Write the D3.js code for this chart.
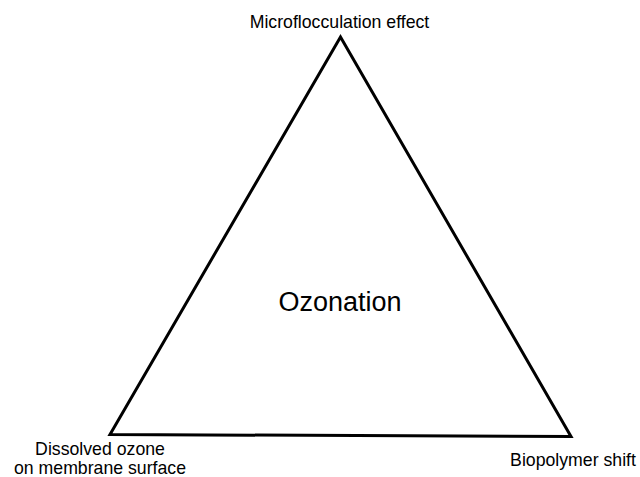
<!DOCTYPE html>
<html>
<head>
<meta charset="utf-8">
<script src="https://cdn.jsdelivr.net/npm/d3@7"></script>
<style>
  body { margin: 0; background: #fff; }
  text { font-family: "Liberation Sans", Arial, sans-serif; fill: #000; }
</style>
</head>
<body>
<div id="chart"></div>
<script>
// corners of the triangle in abstract units (0..1)
var cornerNames = ["Microflocculation effect", "Dissolved ozone|on membrane surface", "Biopolymer shift"];
var cornerX = [0.5, 0, 1];
var cornerY = [1, 0, -0.005];
var centerLabel = "Ozonation";

var width = 640, height = 477;

var svg = d3.select("#chart").append("svg")
    .attr("width", width)
    .attr("height", height);

var xScale = d3.scaleLinear().domain([0, 1]).range([110, 571]);
var yScale = d3.scaleLinear().domain([0, 1]).range([434.5, 37]);

var corners = cornerNames.map(function(n, i) {
  return { name: n, x: cornerX[i], y: cornerY[i] };
});

var line = d3.line()
    .x(function(d) { return xScale(d.x); })
    .y(function(d) { return yScale(d.y); })
    .curve(d3.curveLinearClosed);

svg.append("path")
   .datum(corners)
   .attr("d", line)
   .style("fill", "none")
   .style("stroke", "#000")
   .style("stroke-width", 3)
   .style("stroke-linejoin", "miter");

// label offsets per corner
var labelPos = [
  { dx: -1, dy: -9 },
  { dx: -10, dy: 20.5 },
  { dx: 2, dy: 30 }
];

corners.forEach(function(c, i) {
  var lines = c.name.split("|");
  var t = svg.append("text")
     .attr("x", xScale(c.x) + labelPos[i].dx)
     .attr("y", yScale(c.y) + labelPos[i].dy)
     .attr("text-anchor", "middle")
     .style("font-size", "17.7px");
  lines.forEach(function(l, j) {
    t.append("tspan")
     .attr("x", xScale(c.x) + labelPos[i].dx)
     .attr("dy", j == 0 ? 0 : 19)
     .text(l);
  });
});

svg.append("text")
   .attr("x", xScale(0.5) - 0.5)
   .attr("y", 311)
   .attr("text-anchor", "middle")
   .style("font-size", "27px")
   .text(centerLabel);
</script>
</body>
</html>
